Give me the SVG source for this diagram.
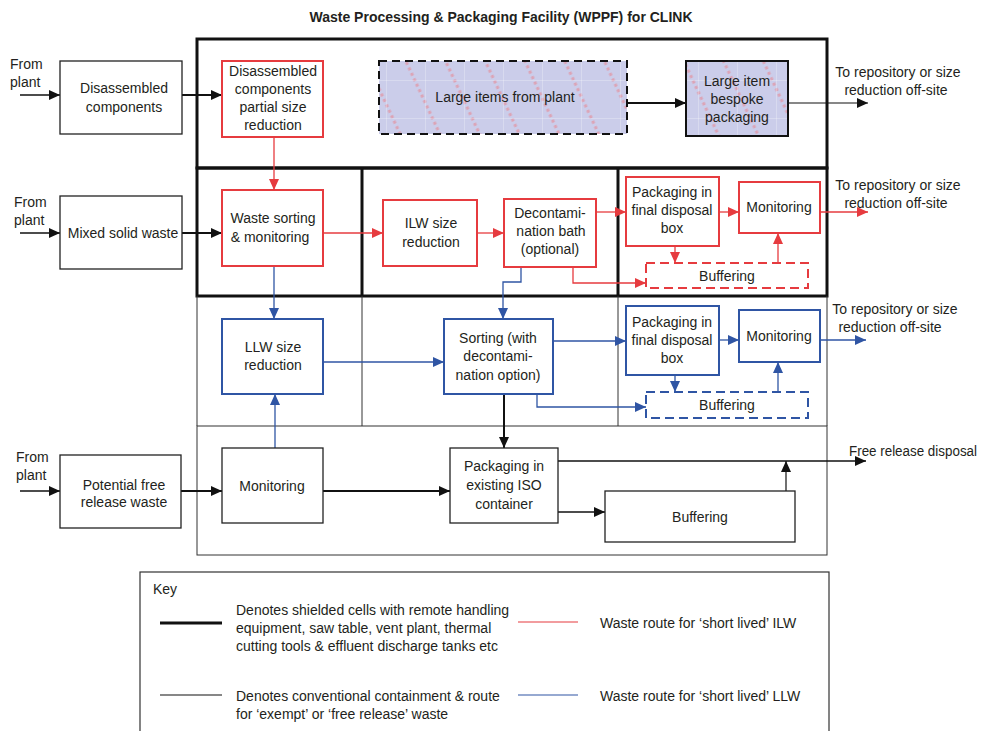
<svg xmlns="http://www.w3.org/2000/svg" width="981" height="731" viewBox="0 0 981 731">
<style>
text{font-family:"Liberation Sans",Arial,sans-serif;font-size:14px;fill:#231f20}
.c{text-anchor:middle}
.title{font-weight:bold}
.bk{fill:#fff;stroke:#222;stroke-width:1.3}
.rd{fill:#fff;stroke:#e63b3f;stroke-width:2}
.bl{fill:#fff;stroke:#2f55a4;stroke-width:2}
.rdd{fill:#fff;stroke:#e63b3f;stroke-width:2;stroke-dasharray:9 5}
.bld{fill:#fff;stroke:#2f55a4;stroke-width:2;stroke-dasharray:9 5}
.thick{fill:none;stroke:#111;stroke-width:3}
.thin{fill:none;stroke:#333;stroke-width:1}
.cb{fill:none;stroke:#111;marker-end:url(#ab)}
.cr{fill:none;stroke:#e63b3f;stroke-width:1.3;marker-end:url(#ar)}
.cu{fill:none;stroke:#2f55a4;stroke-width:1.3;marker-end:url(#au)}
</style>
<defs>
<marker id="ab" markerUnits="userSpaceOnUse" markerWidth="12" markerHeight="10" refX="11" refY="5" orient="auto"><path d="M0,0 L11,5 L0,10 Z" fill="#111"/></marker>
<marker id="ar" markerUnits="userSpaceOnUse" markerWidth="12" markerHeight="10" refX="11" refY="5" orient="auto"><path d="M0,0 L11,5 L0,10 Z" fill="#e63b3f"/></marker>
<marker id="au" markerUnits="userSpaceOnUse" markerWidth="12" markerHeight="10" refX="11" refY="5" orient="auto"><path d="M0,0 L11,5 L0,10 Z" fill="#2f55a4"/></marker>
<pattern id="hatch" patternUnits="userSpaceOnUse" width="36" height="36" patternTransform="rotate(-25)">
<rect width="36" height="36" fill="#cbcdea"/>
<line x1="18" y1="0" x2="18" y2="36" stroke="#dca4b6" stroke-width="3" stroke-dasharray="3 3"/>
</pattern>
<pattern id="grid" patternUnits="userSpaceOnUse" width="39" height="38" x="386" y="80">
<path d="M0,0 V38 M0,0 H39" stroke="#ffffff" stroke-opacity="0.5" stroke-width="1" fill="none"/>
</pattern>
</defs>

<text class="c title" x="501" y="22">Waste Processing &amp; Packaging Facility (WPPF) for CLINK</text>

<g id="frame">
<rect class="thick" x="197" y="39" width="630" height="129"/>
<rect class="thick" x="197" y="168" width="630" height="128"/>
<line class="thick" x1="362" y1="168" x2="362" y2="296"/>
<line class="thick" x1="618" y1="168" x2="618" y2="296"/>
<path class="thin" d="M197,296 V426 M362,296 V426 M618,296 V426 M827,296 V426"/>
<rect class="thin" x="197" y="426" width="630" height="129"/>
</g>

<g id="connectors">
<path class="cb" stroke-width="1.5" d="M20,95 H60"/>
<path class="cb" stroke-width="2" d="M182,95 H222"/>
<path class="cb" stroke-width="2" d="M627,103 H686"/>
<path class="cb" stroke-width="1.2" d="M788,103 H868"/>
<path class="cb" stroke-width="1.5" d="M20,233 H60"/>
<path class="cb" stroke-width="2" d="M182,233 H222"/>
<path class="cb" stroke-width="1.5" d="M20,491 H60"/>
<path class="cb" stroke-width="2" d="M181,491 H222"/>
<path class="cb" stroke-width="2" d="M323,491 H450"/>
<path class="cb" stroke-width="2" d="M504,394 V448"/>
<path class="cb" stroke-width="1.5" d="M558,461 H866"/>
<path class="cb" stroke-width="1.5" d="M558,512 H605"/>
<path class="cb" stroke-width="1.2" d="M786,491 V461"/>

<path class="cr" d="M274,137 V190"/>
<path class="cr" stroke-width="2" d="M323,233 H383"/>
<path class="cr" stroke-width="2" d="M477,233 H504"/>
<path class="cr" d="M596,212 H626"/>
<path class="cr" d="M719,212 H739"/>
<path class="cr" d="M820,212 H868"/>
<path class="cr" d="M675,246 V263"/>
<path class="cr" d="M778,263 V233"/>
<path class="cr" d="M573,267 V283 H646"/>

<path class="cu" d="M274,266 V319"/>
<path class="cu" d="M521,267 V282 H503 V319"/>
<path class="cu" d="M323,362 H444"/>
<path class="cu" d="M553,341 H626"/>
<path class="cu" d="M719,340 H739"/>
<path class="cu" d="M820,340 H866"/>
<path class="cu" d="M675,375 V392"/>
<path class="cu" d="M778,392 V362"/>
<path class="cu" d="M537,394 V407 H646"/>
<path class="cu" d="M275,448 V394"/>
</g>

<g id="from-plant-1"><text x="10" y="69">From</text><text x="10" y="87">plant</text></g>
<g id="from-plant-2"><text x="14" y="207">From</text><text x="14" y="225">plant</text></g>
<g id="from-plant-3"><text x="16" y="462">From</text><text x="16" y="480">plant</text></g>

<g id="disassembled-components">
<rect class="bk" x="60" y="61" width="122" height="73"/>
<text class="c" x="124" y="93">Disassembled</text>
<text class="c" x="124" y="112">components</text>
</g>
<g id="mixed-solid-waste">
<rect class="bk" x="60" y="196" width="122" height="73"/>
<text class="c" x="123" y="238">Mixed solid waste</text>
</g>
<g id="potential-free-release">
<rect class="bk" x="60" y="455" width="121" height="73"/>
<text class="c" x="124" y="490">Potential free</text>
<text class="c" x="124" y="507">release waste</text>
</g>

<g id="dc-partial">
<rect class="rd" x="222" y="61" width="101" height="76"/>
<text class="c" x="273" y="76">Disassembled</text>
<text class="c" x="273" y="94">components</text>
<text class="c" x="273" y="112">partial size</text>
<text class="c" x="273" y="130">reduction</text>
</g>
<g id="large-items">
<rect x="379" y="61" width="248" height="73" fill="url(#hatch)"/>
<rect x="379" y="61" width="248" height="73" fill="url(#grid)"/>
<rect x="379" y="61" width="248" height="73" fill="none" stroke="#111" stroke-width="2" stroke-dasharray="8 5"/>
<text class="c" x="505" y="102">Large items from plant</text>
</g>
<g id="bespoke">
<rect x="686" y="61" width="102" height="75" fill="url(#hatch)"/>
<rect x="686" y="61" width="102" height="75" fill="url(#grid)"/>
<rect x="686" y="61" width="102" height="75" fill="none" stroke="#111" stroke-width="2"/>
<text class="c" x="737" y="86">Large item</text>
<text class="c" x="737" y="104">bespoke</text>
<text class="c" x="737" y="122">packaging</text>
</g>
<g id="out-1"><text class="c" x="898" y="77">To repository or size</text><text class="c" x="896" y="95">reduction off-site</text></g>

<g id="waste-sorting">
<rect class="rd" x="222" y="190" width="101" height="76"/>
<text class="c" x="273" y="223">Waste sorting</text>
<text class="c" x="270" y="242">&amp; monitoring</text>
</g>
<g id="ilw-size">
<rect class="rd" x="383" y="200" width="94" height="66"/>
<text class="c" x="431" y="228">ILW size</text>
<text class="c" x="431" y="247">reduction</text>
</g>
<g id="decon-bath">
<rect class="rd" x="504" y="199" width="92" height="68"/>
<text class="c" x="550" y="218">Decontami-</text>
<text class="c" x="551" y="236">nation bath</text>
<text class="c" x="550" y="254">(optional)</text>
</g>
<g id="ilw-packaging">
<rect class="rd" x="626" y="177" width="93" height="69"/>
<text class="c" x="672" y="197">Packaging in</text>
<text class="c" x="672" y="215">final disposal</text>
<text class="c" x="672" y="233">box</text>
</g>
<g id="ilw-monitoring">
<rect class="rd" x="739" y="182" width="81" height="51"/>
<text class="c" x="779" y="212">Monitoring</text>
</g>
<g id="ilw-buffering">
<rect class="rdd" x="646" y="263" width="162" height="25"/>
<text class="c" x="727" y="281">Buffering</text>
</g>
<g id="out-2"><text class="c" x="898" y="190">To repository or size</text><text class="c" x="896" y="208">reduction off-site</text></g>

<g id="llw-size">
<rect class="bl" x="222" y="319" width="101" height="75"/>
<text class="c" x="273" y="352">LLW size</text>
<text class="c" x="273" y="370">reduction</text>
</g>
<g id="sorting-decon">
<rect class="bl" x="444" y="319" width="109" height="75"/>
<text class="c" x="498" y="343">Sorting (with</text>
<text class="c" x="498" y="361">decontami-</text>
<text class="c" x="498" y="380">nation option)</text>
</g>
<g id="llw-packaging">
<rect class="bl" x="626" y="306" width="93" height="69"/>
<text class="c" x="672" y="327">Packaging in</text>
<text class="c" x="672" y="345">final disposal</text>
<text class="c" x="672" y="363">box</text>
</g>
<g id="llw-monitoring">
<rect class="bl" x="739" y="310" width="81" height="52"/>
<text class="c" x="779" y="341">Monitoring</text>
</g>
<g id="llw-buffering">
<rect class="bld" x="646" y="392" width="162" height="26"/>
<text class="c" x="727" y="410">Buffering</text>
</g>
<g id="out-3"><text class="c" x="895" y="314">To repository or size</text><text class="c" x="890" y="332">reduction off-site</text></g>

<g id="fr-monitoring">
<rect class="bk" x="222" y="448" width="101" height="75"/>
<text class="c" x="272" y="491">Monitoring</text>
</g>
<g id="iso-packaging">
<rect class="bk" x="450" y="448" width="108" height="75"/>
<text class="c" x="504" y="471">Packaging in</text>
<text class="c" x="504" y="490">existing ISO</text>
<text class="c" x="504" y="509">container</text>
</g>
<g id="fr-buffering">
<rect class="bk" x="605" y="491" width="190" height="51"/>
<text class="c" x="700" y="522">Buffering</text>
</g>
<g id="free-release"><text x="849" y="456" textLength="128" lengthAdjust="spacingAndGlyphs">Free release disposal</text></g>

<g id="key">
<rect x="140" y="572" width="689" height="170" fill="#fff" stroke="#333" stroke-width="1.2"/>
<text x="153" y="594">Key</text>
<line x1="160" y1="623" x2="222" y2="623" stroke="#111" stroke-width="3"/>
<text x="236" y="615">Denotes shielded cells with remote handling</text>
<text x="236" y="633">equipment, saw table, vent plant, thermal</text>
<text x="236" y="651">cutting tools &amp; effluent discharge tanks etc</text>
<line x1="518" y1="622" x2="578" y2="622" stroke="#e63b3f" stroke-width="1.2"/>
<text x="600" y="628">Waste route for ‘short lived’ ILW</text>
<line x1="160" y1="695" x2="222" y2="695" stroke="#111" stroke-width="1.2"/>
<text x="236" y="701">Denotes conventional containment &amp; route</text>
<text x="236" y="719">for ‘exempt’ or ‘free release’ waste</text>
<line x1="518" y1="695" x2="578" y2="695" stroke="#2f55a4" stroke-width="1.2"/>
<text x="600" y="701">Waste route for ‘short lived’ LLW</text>
</g>
</svg>
